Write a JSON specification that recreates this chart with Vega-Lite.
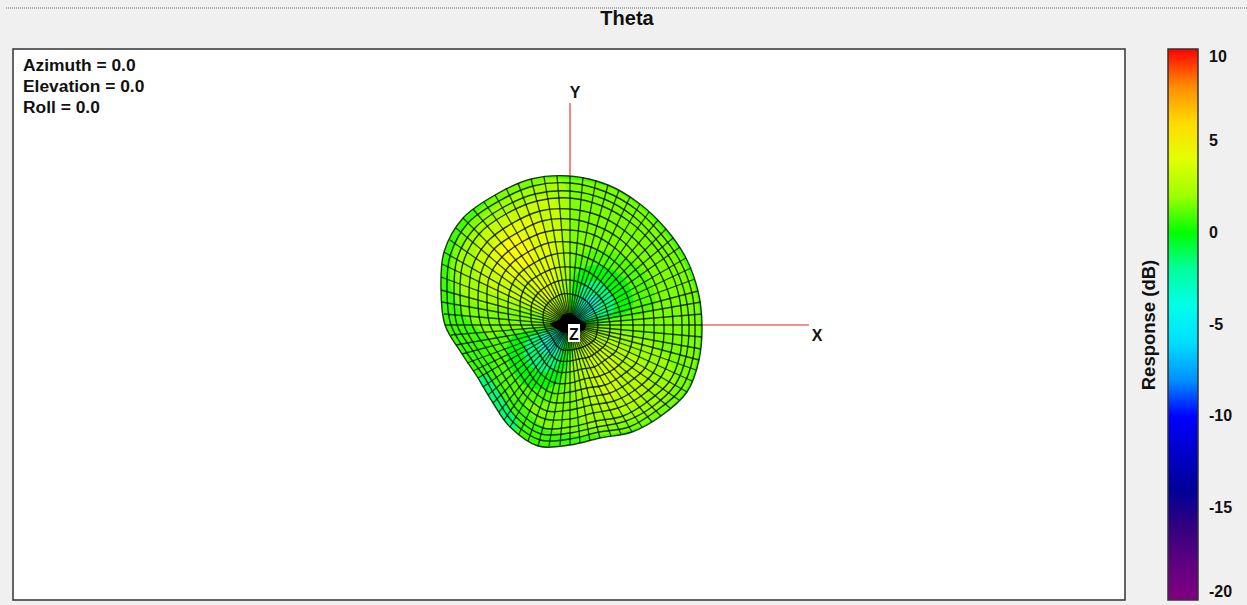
{"$schema":"https://vega.github.io/schema/vega-lite/v6.json","width":1112,"height":551,"autosize":{"type":"none"},"padding":{"left":13,"top":49,"right":122,"bottom":5},"background":"#f0f0f0","view":{"fill":"white","stroke":"#333333","strokeWidth":1.5},
"datasets":{
"axes":[{"x":0,"y":222,"x2":0,"y2":150},{"x":132,"y":0,"x2":239,"y2":0}],
"top":[{"x":-564,"y":317,"x2":677}],
"heading":[{"x":57,"y":306,"t":"Theta"}],
"notes":[{"x":-547,"y":259,"t":"Azimuth = 0.0"},{"x":-547,"y":238,"t":"Elevation = 0.0"},{"x":-547,"y":217,"t":"Roll = 0.0"}],
"labels":[{"x":5,"y":232,"t":"Y"},{"x":247,"y":-11,"t":"X"},{"x":4,"y":-10,"t":"Z"}],
"zbox":[{"x":-2,"x2":10,"y":1,"y2":-17}],
"hub":[{"x":-20,"y":1},{"x":-10,"y":5},{"x":-7,"y":10},{"x":1,"y":12},{"x":8,"y":6},{"x":16,"y":1},{"x":14,"y":-5},{"x":4,"y":-8},{"x":-8,"y":-7}],
"bands":[
{"b":"a","v":0.3,"x":132,"y":0},{"b":"a","v":0.3,"x":128,"y":34},{"b":"a","v":0.3,"x":116,"y":67},{"b":"a","v":0.3,"x":96,"y":96},{"b":"a","v":0.3,"x":70,"y":121},{"b":"a","v":0.3,"x":38,"y":140},{"b":"a","v":0.3,"x":0,"y":149},{"b":"a","v":0.3,"x":-39,"y":146},{"b":"a","v":0.3,"x":-75,"y":130},{"b":"a","v":0.3,"x":-107,"y":107},{"b":"a","v":0.3,"x":-126,"y":73},{"b":"a","v":0.3,"x":-129,"y":35},{"b":"a","v":0.3,"x":-125,"y":0},{"b":"a","v":0.3,"x":-108,"y":-29},{"b":"a","v":0.3,"x":-92,"y":-53},{"b":"a","v":0.3,"x":-77,"y":-78},{"b":"a","v":0.3,"x":-60,"y":-102},{"b":"a","v":0.3,"x":-32,"y":-121},{"b":"a","v":0.3,"x":0,"y":-120},{"b":"a","v":0.3,"x":30,"y":-113},{"b":"a","v":0.3,"x":62,"y":-107},{"b":"a","v":0.3,"x":91,"y":-91},{"b":"a","v":0.3,"x":117,"y":-67},{"b":"a","v":0.3,"x":129,"y":-35},
{"b":"t","v":-1.2,"x":-92,"y":-53},{"b":"t","v":-1.2,"x":-77,"y":-78},{"b":"t","v":-1.2,"x":-60,"y":-102},{"b":"t","v":-1.2,"x":-52,"y":-100},{"b":"t","v":-1.2,"x":-65,"y":-75},{"b":"t","v":-1.2,"x":-80,"y":-52},
{"b":"c","v":1.3,"x":0,"y":146},{"b":"c","v":1.3,"x":40,"y":137},{"b":"c","v":1.3,"x":70,"y":118},{"b":"c","v":1.3,"x":94,"y":93},{"b":"c","v":1.3,"x":113,"y":65},{"b":"c","v":1.3,"x":126,"y":33},{"b":"c","v":1.3,"x":130,"y":0},{"b":"c","v":1.3,"x":127,"y":-34},{"b":"c","v":1.3,"x":115,"y":-66},{"b":"c","v":1.3,"x":90,"y":-90},{"b":"c","v":1.3,"x":60,"y":-105},{"b":"c","v":1.3,"x":28,"y":-110},{"b":"c","v":1.3,"x":0,"y":-110},{"b":"c","v":1.3,"x":-30,"y":-100},{"b":"c","v":1.3,"x":-50,"y":-70},{"b":"c","v":1.3,"x":-60,"y":-40},{"b":"c","v":1.3,"x":-85,"y":-10},{"b":"c","v":1.3,"x":-110,"y":15},{"b":"c","v":1.3,"x":-120,"y":50},{"b":"c","v":1.3,"x":-110,"y":90},{"b":"c","v":1.3,"x":-80,"y":125},{"b":"c","v":1.3,"x":-40,"y":145},
{"b":"u2","v":2.2,"x":-5,"y":140},{"b":"u2","v":2.2,"x":-45,"y":135},{"b":"u2","v":2.2,"x":-85,"y":110},{"b":"u2","v":2.2,"x":-110,"y":70},{"b":"u2","v":2.2,"x":-110,"y":35},{"b":"u2","v":2.2,"x":-85,"y":20},{"b":"u2","v":2.2,"x":-45,"y":15},{"b":"u2","v":2.2,"x":-8,"y":8},{"b":"u2","v":2.2,"x":0,"y":50},
{"b":"u3","v":3.2,"x":-15,"y":125},{"b":"u3","v":3.2,"x":-50,"y":120},{"b":"u3","v":3.2,"x":-85,"y":95},{"b":"u3","v":3.2,"x":-95,"y":60},{"b":"u3","v":3.2,"x":-80,"y":35},{"b":"u3","v":3.2,"x":-45,"y":22},{"b":"u3","v":3.2,"x":-15,"y":12},{"b":"u3","v":3.2,"x":-8,"y":60},
{"b":"u4","v":4.1,"x":-30,"y":105},{"b":"u4","v":4.1,"x":-60,"y":100},{"b":"u4","v":4.1,"x":-80,"y":75},{"b":"u4","v":4.1,"x":-70,"y":50},{"b":"u4","v":4.1,"x":-40,"y":40},{"b":"u4","v":4.1,"x":-20,"y":25},{"b":"u4","v":4.1,"x":-15,"y":60},
{"b":"u5","v":4.9,"x":-55,"y":90},{"b":"u5","v":4.9,"x":-70,"y":75},{"b":"u5","v":4.9,"x":-60,"y":60},{"b":"u5","v":4.9,"x":-40,"y":60},{"b":"u5","v":4.9,"x":-40,"y":80},
{"b":"l2","v":2,"x":5,"y":-10},{"b":"l2","v":2,"x":40,"y":-5},{"b":"l2","v":2,"x":85,"y":-20},{"b":"l2","v":2,"x":105,"y":-55},{"b":"l2","v":2,"x":85,"y":-85},{"b":"l2","v":2,"x":45,"y":-100},{"b":"l2","v":2,"x":15,"y":-100},{"b":"l2","v":2,"x":0,"y":-50},
{"b":"l3","v":2.7,"x":8,"y":-12},{"b":"l3","v":2.7,"x":40,"y":-15},{"b":"l3","v":2.7,"x":70,"y":-35},{"b":"l3","v":2.7,"x":80,"y":-60},{"b":"l3","v":2.7,"x":60,"y":-85},{"b":"l3","v":2.7,"x":30,"y":-85},{"b":"l3","v":2.7,"x":12,"y":-60},
{"b":"l4","v":3.4,"x":15,"y":-15},{"b":"l4","v":3.4,"x":35,"y":-25},{"b":"l4","v":3.4,"x":50,"y":-45},{"b":"l4","v":3.4,"x":45,"y":-70},{"b":"l4","v":3.4,"x":30,"y":-70},{"b":"l4","v":3.4,"x":18,"y":-40},
{"b":"ur6","v":0.6,"x":3,"y":5},{"b":"ur6","v":0.6,"x":3,"y":60},{"b":"ur6","v":0.6,"x":30,"y":75},{"b":"ur6","v":0.6,"x":70,"y":58},{"b":"ur6","v":0.6,"x":85,"y":20},{"b":"ur6","v":0.6,"x":50,"y":5},
{"b":"ur0","v":0,"x":4,"y":5},{"b":"ur0","v":0,"x":5,"y":48},{"b":"ur0","v":0,"x":28,"y":60},{"b":"ur0","v":0,"x":55,"y":45},{"b":"ur0","v":0,"x":62,"y":18},{"b":"ur0","v":0,"x":35,"y":5},
{"b":"ur2","v":-1.5,"x":5,"y":5},{"b":"ur2","v":-1.5,"x":9,"y":36},{"b":"ur2","v":-1.5,"x":26,"y":44},{"b":"ur2","v":-1.5,"x":42,"y":32},{"b":"ur2","v":-1.5,"x":42,"y":12},{"b":"ur2","v":-1.5,"x":22,"y":4},
{"b":"ur4","v":-3.5,"x":6,"y":7},{"b":"ur4","v":-3.5,"x":13,"y":26},{"b":"ur4","v":-3.5,"x":27,"y":28},{"b":"ur4","v":-3.5,"x":28,"y":14},{"b":"ur4","v":-3.5,"x":14,"y":6},
{"b":"ll6","v":0.6,"x":-3,"y":-5},{"b":"ll6","v":0.6,"x":-70,"y":-8},{"b":"ll6","v":0.6,"x":-78,"y":-35},{"b":"ll6","v":0.6,"x":-62,"y":-70},{"b":"ll6","v":0.6,"x":-25,"y":-78},{"b":"ll6","v":0.6,"x":-3,"y":-55},
{"b":"ll0","v":0,"x":-4,"y":-5},{"b":"ll0","v":0,"x":-55,"y":-10},{"b":"ll0","v":0,"x":-62,"y":-35},{"b":"ll0","v":0,"x":-45,"y":-60},{"b":"ll0","v":0,"x":-18,"y":-62},{"b":"ll0","v":0,"x":-4,"y":-40},
{"b":"ll2","v":-1.5,"x":-5,"y":-5},{"b":"ll2","v":-1.5,"x":-38,"y":-10},{"b":"ll2","v":-1.5,"x":-46,"y":-30},{"b":"ll2","v":-1.5,"x":-30,"y":-47},{"b":"ll2","v":-1.5,"x":-12,"y":-40},
{"b":"ll4","v":-3.5,"x":-8,"y":-7},{"b":"ll4","v":-3.5,"x":-26,"y":-10},{"b":"ll4","v":-3.5,"x":-30,"y":-24},{"b":"ll4","v":-3.5,"x":-18,"y":-30},{"b":"ll4","v":-3.5,"x":-8,"y":-18}
],
"spokes":[{"x":132,"y":0},{"x":132,"y":11},{"x":131,"y":23},{"x":128,"y":34},{"x":125,"y":46},{"x":121,"y":57},{"x":116,"y":67},{"x":110,"y":78},{"x":103,"y":87},{"x":96,"y":96},{"x":88,"y":105},{"x":79,"y":113},{"x":70,"y":121},{"x":60,"y":128},{"x":49,"y":135},{"x":38,"y":140},{"x":26,"y":145},{"x":13,"y":148},{"x":0,"y":149},{"x":-13,"y":149},{"x":-26,"y":148},{"x":-39,"y":146},{"x":-52,"y":142},{"x":-64,"y":137},{"x":-75,"y":130},{"x":-86,"y":123},{"x":-97,"y":116},{"x":-107,"y":107},{"x":-114,"y":97},{"x":-120,"y":85},{"x":-126,"y":73},{"x":-128,"y":61},{"x":-129,"y":48},{"x":-129,"y":35},{"x":-128,"y":23},{"x":-126,"y":11},{"x":-125,"y":0},{"x":-119,"y":-10},{"x":-114,"y":-20},{"x":-108,"y":-29},{"x":-103,"y":-38},{"x":-97,"y":-46},{"x":-92,"y":-53},{"x":-87,"y":-62},{"x":-82,"y":-70},{"x":-77,"y":-78},{"x":-71,"y":-87},{"x":-66,"y":-95},{"x":-60,"y":-102},{"x":-51,"y":-109},{"x":-42,"y":-116},{"x":-32,"y":-121},{"x":-21,"y":-121},{"x":-10,"y":-120},{"x":0,"y":-120},{"x":10,"y":-118},{"x":20,"y":-116},{"x":30,"y":-113},{"x":41,"y":-111},{"x":51,"y":-109},{"x":62,"y":-107},{"x":72,"y":-102},{"x":82,"y":-97},{"x":91,"y":-91},{"x":100,"y":-83},{"x":109,"y":-75},{"x":117,"y":-67},{"x":122,"y":-56},{"x":126,"y":-45},{"x":129,"y":-35},{"x":131,"y":-24},{"x":132,"y":-12}],
"rings":[
{"r":1,"x":28,"y":0},{"r":1,"x":27,"y":7},{"r":1,"x":24,"y":14},{"r":1,"x":20,"y":20},{"r":1,"x":15,"y":25},{"r":1,"x":8,"y":29},{"r":1,"x":0,"y":31},{"r":1,"x":-8,"y":31},{"r":1,"x":-16,"y":27},{"r":1,"x":-22,"y":22},{"r":1,"x":-26,"y":15},{"r":1,"x":-27,"y":7},{"r":1,"x":-26,"y":0},{"r":1,"x":-23,"y":-6},{"r":1,"x":-19,"y":-11},{"r":1,"x":-16,"y":-16},{"r":1,"x":-13,"y":-21},{"r":1,"x":-7,"y":-25},{"r":1,"x":0,"y":-25},{"r":1,"x":6,"y":-24},{"r":1,"x":13,"y":-22},{"r":1,"x":19,"y":-19},{"r":1,"x":25,"y":-14},{"r":1,"x":27,"y":-7},
{"r":2,"x":40,"y":0},{"r":2,"x":38,"y":10},{"r":2,"x":35,"y":20},{"r":2,"x":29,"y":29},{"r":2,"x":21,"y":36},{"r":2,"x":11,"y":42},{"r":2,"x":0,"y":45},{"r":2,"x":-12,"y":44},{"r":2,"x":-23,"y":39},{"r":2,"x":-32,"y":32},{"r":2,"x":-38,"y":22},{"r":2,"x":-39,"y":11},{"r":2,"x":-38,"y":0},{"r":2,"x":-32,"y":-9},{"r":2,"x":-28,"y":-16},{"r":2,"x":-23,"y":-23},{"r":2,"x":-18,"y":-31},{"r":2,"x":-10,"y":-36},{"r":2,"x":0,"y":-36},{"r":2,"x":9,"y":-34},{"r":2,"x":19,"y":-32},{"r":2,"x":27,"y":-27},{"r":2,"x":35,"y":-20},{"r":2,"x":39,"y":-11},
{"r":3,"x":51,"y":0},{"r":3,"x":50,"y":13},{"r":3,"x":45,"y":26},{"r":3,"x":37,"y":37},{"r":3,"x":27,"y":47},{"r":3,"x":15,"y":55},{"r":3,"x":0,"y":58},{"r":3,"x":-15,"y":57},{"r":3,"x":-29,"y":51},{"r":3,"x":-42,"y":42},{"r":3,"x":-49,"y":28},{"r":3,"x":-50,"y":14},{"r":3,"x":-49,"y":0},{"r":3,"x":-42,"y":-11},{"r":3,"x":-36,"y":-21},{"r":3,"x":-30,"y":-30},{"r":3,"x":-23,"y":-40},{"r":3,"x":-12,"y":-47},{"r":3,"x":0,"y":-47},{"r":3,"x":12,"y":-44},{"r":3,"x":24,"y":-42},{"r":3,"x":35,"y":-35},{"r":3,"x":46,"y":-26},{"r":3,"x":50,"y":-14},
{"r":4,"x":63,"y":0},{"r":4,"x":61,"y":16},{"r":4,"x":56,"y":32},{"r":4,"x":46,"y":46},{"r":4,"x":34,"y":58},{"r":4,"x":18,"y":67},{"r":4,"x":0,"y":72},{"r":4,"x":-19,"y":70},{"r":4,"x":-36,"y":62},{"r":4,"x":-51,"y":51},{"r":4,"x":-60,"y":35},{"r":4,"x":-62,"y":17},{"r":4,"x":-60,"y":0},{"r":4,"x":-52,"y":-14},{"r":4,"x":-44,"y":-25},{"r":4,"x":-37,"y":-37},{"r":4,"x":-29,"y":-49},{"r":4,"x":-15,"y":-58},{"r":4,"x":0,"y":-58},{"r":4,"x":14,"y":-54},{"r":4,"x":30,"y":-51},{"r":4,"x":44,"y":-44},{"r":4,"x":56,"y":-32},{"r":4,"x":62,"y":-17},
{"r":5,"x":74,"y":0},{"r":5,"x":72,"y":19},{"r":5,"x":65,"y":38},{"r":5,"x":54,"y":54},{"r":5,"x":39,"y":68},{"r":5,"x":21,"y":78},{"r":5,"x":0,"y":83},{"r":5,"x":-22,"y":82},{"r":5,"x":-42,"y":73},{"r":5,"x":-60,"y":60},{"r":5,"x":-71,"y":41},{"r":5,"x":-72,"y":20},{"r":5,"x":-70,"y":0},{"r":5,"x":-60,"y":-16},{"r":5,"x":-52,"y":-30},{"r":5,"x":-43,"y":-44},{"r":5,"x":-34,"y":-57},{"r":5,"x":-18,"y":-68},{"r":5,"x":0,"y":-67},{"r":5,"x":17,"y":-63},{"r":5,"x":35,"y":-60},{"r":5,"x":51,"y":-51},{"r":5,"x":66,"y":-38},{"r":5,"x":72,"y":-20},
{"r":6,"x":84,"y":0},{"r":6,"x":82,"y":22},{"r":6,"x":74,"y":43},{"r":6,"x":61,"y":61},{"r":6,"x":45,"y":77},{"r":6,"x":24,"y":90},{"r":6,"x":0,"y":95},{"r":6,"x":-25,"y":93},{"r":6,"x":-48,"y":83},{"r":6,"x":-68,"y":68},{"r":6,"x":-81,"y":47},{"r":6,"x":-83,"y":22},{"r":6,"x":-80,"y":0},{"r":6,"x":-69,"y":-19},{"r":6,"x":-59,"y":-34},{"r":6,"x":-49,"y":-50},{"r":6,"x":-38,"y":-65},{"r":6,"x":-20,"y":-77},{"r":6,"x":0,"y":-77},{"r":6,"x":19,"y":-72},{"r":6,"x":40,"y":-68},{"r":6,"x":58,"y":-58},{"r":6,"x":75,"y":-43},{"r":6,"x":83,"y":-22},
{"r":7,"x":94,"y":0},{"r":7,"x":91,"y":24},{"r":7,"x":82,"y":48},{"r":7,"x":68,"y":68},{"r":7,"x":50,"y":86},{"r":7,"x":27,"y":99},{"r":7,"x":0,"y":106},{"r":7,"x":-28,"y":104},{"r":7,"x":-53,"y":92},{"r":7,"x":-76,"y":76},{"r":7,"x":-89,"y":52},{"r":7,"x":-92,"y":25},{"r":7,"x":-89,"y":0},{"r":7,"x":-77,"y":-21},{"r":7,"x":-65,"y":-38},{"r":7,"x":-55,"y":-55},{"r":7,"x":-43,"y":-72},{"r":7,"x":-23,"y":-86},{"r":7,"x":0,"y":-85},{"r":7,"x":21,"y":-80},{"r":7,"x":44,"y":-76},{"r":7,"x":65,"y":-65},{"r":7,"x":83,"y":-48},{"r":7,"x":92,"y":-25},
{"r":8,"x":103,"y":0},{"r":8,"x":100,"y":27},{"r":8,"x":90,"y":52},{"r":8,"x":75,"y":75},{"r":8,"x":55,"y":94},{"r":8,"x":30,"y":109},{"r":8,"x":0,"y":116},{"r":8,"x":-30,"y":114},{"r":8,"x":-59,"y":101},{"r":8,"x":-83,"y":83},{"r":8,"x":-98,"y":57},{"r":8,"x":-101,"y":27},{"r":8,"x":-98,"y":0},{"r":8,"x":-84,"y":-23},{"r":8,"x":-72,"y":-41},{"r":8,"x":-60,"y":-61},{"r":8,"x":-47,"y":-80},{"r":8,"x":-25,"y":-94},{"r":8,"x":0,"y":-94},{"r":8,"x":23,"y":-88},{"r":8,"x":48,"y":-83},{"r":8,"x":71,"y":-71},{"r":8,"x":91,"y":-52},{"r":8,"x":101,"y":-27},
{"r":9,"x":112,"y":0},{"r":9,"x":109,"y":29},{"r":9,"x":99,"y":57},{"r":9,"x":82,"y":82},{"r":9,"x":60,"y":103},{"r":9,"x":32,"y":119},{"r":9,"x":0,"y":127},{"r":9,"x":-33,"y":124},{"r":9,"x":-64,"y":111},{"r":9,"x":-91,"y":91},{"r":9,"x":-107,"y":62},{"r":9,"x":-110,"y":30},{"r":9,"x":-106,"y":0},{"r":9,"x":-92,"y":-25},{"r":9,"x":-78,"y":-45},{"r":9,"x":-65,"y":-66},{"r":9,"x":-51,"y":-87},{"r":9,"x":-27,"y":-103},{"r":9,"x":0,"y":-102},{"r":9,"x":26,"y":-96},{"r":9,"x":53,"y":-91},{"r":9,"x":77,"y":-77},{"r":9,"x":99,"y":-57},{"r":9,"x":110,"y":-30},
{"r":10,"x":119,"y":0},{"r":10,"x":115,"y":31},{"r":10,"x":104,"y":60},{"r":10,"x":86,"y":86},{"r":10,"x":63,"y":109},{"r":10,"x":34,"y":126},{"r":10,"x":0,"y":134},{"r":10,"x":-35,"y":131},{"r":10,"x":-68,"y":117},{"r":10,"x":-96,"y":96},{"r":10,"x":-113,"y":66},{"r":10,"x":-116,"y":32},{"r":10,"x":-113,"y":0},{"r":10,"x":-97,"y":-26},{"r":10,"x":-83,"y":-48},{"r":10,"x":-69,"y":-70},{"r":10,"x":-54,"y":-92},{"r":10,"x":-29,"y":-109},{"r":10,"x":0,"y":-108},{"r":10,"x":27,"y":-102},{"r":10,"x":56,"y":-96},{"r":10,"x":82,"y":-82},{"r":10,"x":105,"y":-60},{"r":10,"x":116,"y":-32},
{"r":11,"x":125,"y":0},{"r":11,"x":122,"y":32},{"r":11,"x":110,"y":64},{"r":11,"x":91,"y":91},{"r":11,"x":67,"y":115},{"r":11,"x":36,"y":133},{"r":11,"x":0,"y":142},{"r":11,"x":-37,"y":139},{"r":11,"x":-71,"y":124},{"r":11,"x":-102,"y":102},{"r":11,"x":-120,"y":69},{"r":11,"x":-123,"y":33},{"r":11,"x":-119,"y":0},{"r":11,"x":-103,"y":-28},{"r":11,"x":-87,"y":-50},{"r":11,"x":-73,"y":-74},{"r":11,"x":-57,"y":-97},{"r":11,"x":-30,"y":-115},{"r":11,"x":0,"y":-114},{"r":11,"x":29,"y":-107},{"r":11,"x":59,"y":-102},{"r":11,"x":86,"y":-86},{"r":11,"x":111,"y":-64},{"r":11,"x":123,"y":-33},
{"r":12,"x":132,"y":0},{"r":12,"x":128,"y":34},{"r":12,"x":116,"y":67},{"r":12,"x":96,"y":96},{"r":12,"x":70,"y":121},{"r":12,"x":38,"y":140},{"r":12,"x":0,"y":149},{"r":12,"x":-39,"y":146},{"r":12,"x":-75,"y":130},{"r":12,"x":-107,"y":107},{"r":12,"x":-126,"y":73},{"r":12,"x":-129,"y":35},{"r":12,"x":-125,"y":0},{"r":12,"x":-108,"y":-29},{"r":12,"x":-92,"y":-53},{"r":12,"x":-77,"y":-78},{"r":12,"x":-60,"y":-102},{"r":12,"x":-32,"y":-121},{"r":12,"x":0,"y":-120},{"r":12,"x":30,"y":-113},{"r":12,"x":62,"y":-107},{"r":12,"x":91,"y":-91},{"r":12,"x":117,"y":-67},{"r":12,"x":129,"y":-35}
]},
"encoding":{"x":{"field":"x","type":"quantitative","axis":null,"scale":{"domain":[-557,555],"nice":false,"zero":false}},"y":{"field":"y","type":"quantitative","axis":null,"scale":{"domain":[-275,276],"nice":false,"zero":false}}},
"layer":[
{"data":{"name":"top"},"mark":{"type":"rule","color":"#666666","strokeDash":[1,1],"strokeWidth":1},"encoding":{"x2":{"field":"x2"}}},
{"data":{"name":"axes"},"mark":{"type":"rule","color":"#f06a6a","strokeWidth":1.6},"encoding":{"x2":{"field":"x2"},"y2":{"field":"y2"}}},
{"data":{"name":"bands"},"mark":{"type":"line","strokeWidth":0,"interpolate":"cardinal-closed"},"encoding":{"detail":{"field":"b"},"order":{"value":null},"fill":{"field":"v","type":"quantitative","scale":{"domain":[-20,-15,-10,-5,0,5,10],"range":["#800080","#000080","#0000ff","#00ffff","#00ff00","#ffff00","#ff0000"]},"legend":{"orient":"none","legendX":1127,"legendY":0,"direction":"vertical","type":"gradient","gradientLength":551,"gradientThickness":30,"gradientStrokeColor":"#333333","gradientStrokeWidth":1.5,"values":[10,5,0,-5,-10,-15,-20],"labelExpr":"''+datum.value","labelFont":"Liberation Sans","labelFontWeight":"bold","labelFontSize":16,"labelColor":"#111111","labelOffset":11,"labelOverlap":false,"tickCount":7,"title":"Response  (dB)","titleFont":"Liberation Sans","titleFontWeight":"bold","titleFontSize":18.5,"titleColor":"#111111","titleOrient":"left","titleAnchor":"middle","titlePadding":9}}}},
{"data":{"name":"rings"},"mark":{"type":"line","color":"#061500","strokeWidth":1.4,"strokeOpacity":0.85,"interpolate":"cardinal-closed"},"encoding":{"detail":{"field":"r"},"order":{"value":null}}},
{"data":{"name":"spokes"},"mark":{"type":"rule","color":"#061500","strokeWidth":1.3,"strokeOpacity":0.8},"encoding":{"x2":{"datum":0},"y2":{"datum":0}}},
{"data":{"name":"hub"},"mark":{"type":"line","fill":"#000000","stroke":"#000000","strokeWidth":1,"interpolate":"linear-closed"},"encoding":{"order":{"value":null}}},
{"data":{"name":"zbox"},"mark":{"type":"rect","color":"#ffffff"},"encoding":{"x2":{"field":"x2"},"y2":{"field":"y2"}}},
{"data":{"name":"heading"},"mark":{"type":"text","font":"Liberation Sans","fontWeight":"bold","fontSize":20,"align":"center","baseline":"middle","color":"#111111"},"encoding":{"text":{"field":"t"}}},
{"data":{"name":"notes"},"mark":{"type":"text","font":"Liberation Sans","fontWeight":"bold","fontSize":17.4,"align":"left","baseline":"middle","color":"#111111"},"encoding":{"text":{"field":"t"}}},
{"data":{"name":"labels"},"mark":{"type":"text","font":"Liberation Sans","fontWeight":"bold","fontSize":16,"align":"center","baseline":"middle","color":"#111111"},"encoding":{"text":{"field":"t"}}}
]}
